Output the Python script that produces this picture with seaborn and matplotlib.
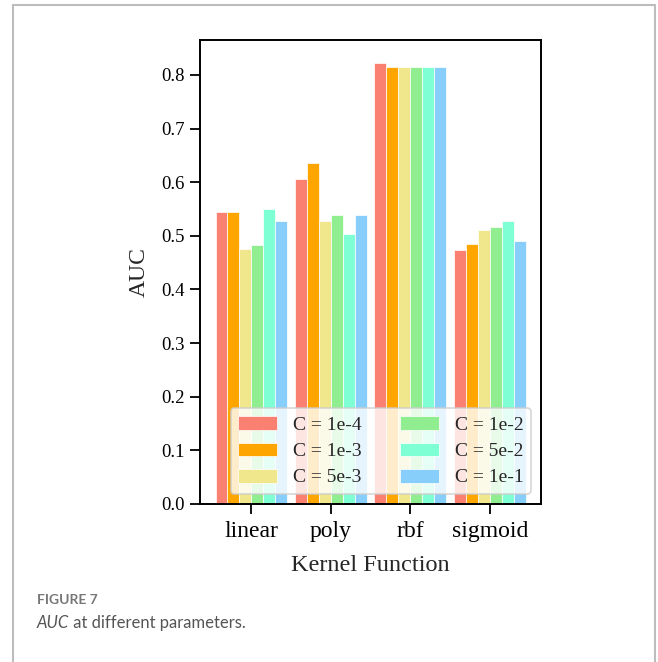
import matplotlib
matplotlib.use("Agg")
import matplotlib.pyplot as plt
import seaborn as sns
import pandas as pd
from matplotlib.patches import Rectangle

kernels = ["linear", "poly", "rbf", "sigmoid"]
c_labels = ["C = 1e-4", "C = 1e-3", "C = 5e-3", "C = 1e-2", "C = 5e-2", "C = 1e-1"]
auc_c1e4 = [0.544, 0.606, 0.823, 0.474]
auc_c1e3 = [0.544, 0.635, 0.815, 0.484]
auc_c5e3 = [0.476, 0.527, 0.814, 0.510]
auc_c1e2 = [0.483, 0.538, 0.814, 0.517]
auc_c5e2 = [0.550, 0.504, 0.815, 0.527]
auc_c1e1 = [0.527, 0.538, 0.815, 0.491]
colors = ["#FA8072", "#FFA500", "#F0E68C", "#90EE90", "#7FFFD4", "#87CEFA"]

series = [auc_c1e4, auc_c1e3, auc_c5e3, auc_c1e2, auc_c5e2, auc_c1e1]
rows = []
for lab, vals in zip(c_labels, series):
    for k, v in zip(kernels, vals):
        rows.append({"Kernel": k, "C": lab, "AUC": v})
df = pd.DataFrame(rows)

sns.set_style("ticks")
plt.rcParams["font.family"] = ["Liberation Serif", "DejaVu Serif"]

cap_family = ["Lato", "DejaVu Sans"]

fig = plt.figure(figsize=(6.58, 6.62), dpi=100)
ax = fig.add_axes([200 / 658, (662 - 504) / 662, 341 / 658, 464 / 662])

sns.barplot(data=df, x="Kernel", y="AUC", hue="C", order=kernels, hue_order=c_labels,
            palette=colors, width=0.9, gap=0, edgecolor="white", linewidth=0.5,
            errorbar=None, ax=ax, saturation=1)

ax.set_xlim(-0.645, 3.645)
ax.set_ylim(0, 0.865)
ax.set_yticks([0.0, 0.1, 0.2, 0.3, 0.4, 0.5, 0.6, 0.7, 0.8])
ax.set_yticklabels(["0.0", "0.1", "0.2", "0.3", "0.4", "0.5", "0.6", "0.7", "0.8"])
ax.tick_params(axis="both", length=7, width=1.3, direction="out", colors="black")
ax.tick_params(axis="y", labelsize=13.5, pad=4)
ax.tick_params(axis="x", labelsize=17, pad=5.5)
for s in ax.spines.values():
    s.set_visible(True)
    s.set_linewidth(1.4)
    s.set_color("black")
ax.set_xlabel("Kernel Function", fontsize=17.5, labelpad=9)
ax.set_ylabel("AUC", fontsize=17, labelpad=8)

leg = ax.legend(loc="lower right", ncol=2, fontsize=14, handlelength=2.0,
                handleheight=0.7, handletextpad=0.8, columnspacing=2.0, framealpha=0.8,
                edgecolor="#cccccc", borderpad=0.4, labelspacing=0.45, fancybox=True,
                borderaxespad=0.5)
leg.get_frame().set_linewidth(1.2)

# outer border
fig.patches.append(Rectangle((12.5 / 658, -0.05), (655 - 12.5) / 658, 1.05 - 5 / 662,
                             transform=fig.transFigure, fill=False,
                             edgecolor="#bdbdbd", linewidth=1.5))

fig.text(37 / 658, 1 - 600 / 662, "FIGURE 7", family=cap_family,
         fontsize=10, fontweight="bold", color="#777777", va="center")
t1 = fig.text(37 / 658, 1 - 623 / 662, "AUC", family=cap_family,
              fontsize=12, style="italic", color="#555555", va="center")
fig.canvas.draw()
bb = t1.get_window_extent()
fig.text(bb.x1 / fig.bbox.width, 1 - 623 / 662, " at different parameters.",
         family=cap_family, fontsize=12, color="#555555", va="center")

fig.savefig("out.png", dpi=100)
